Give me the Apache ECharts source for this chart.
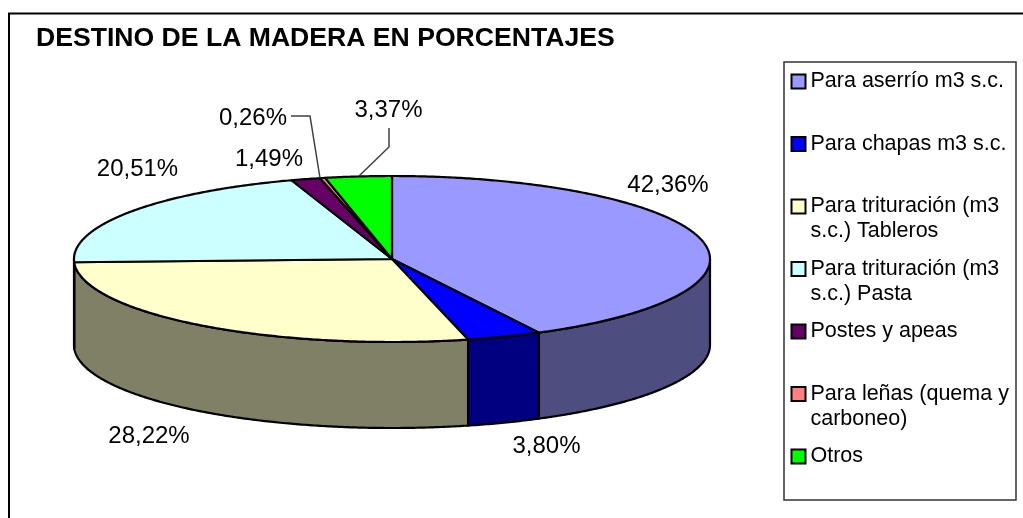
<!DOCTYPE html>
<html>
<head>
<meta charset="utf-8">
<style>html,body{margin:0;padding:0;background:#fff}#c{width:1023px;height:518px}</style>
<script src="https://cdn.jsdelivr.net/npm/echarts@6/dist/echarts.min.js"></script>
</head>
<body>
<div id="c"></div>
<script>
const titleText = 'DESTINO DE LA MADERA EN PORCENTAJES';
const categories = ['Para aserrío m3 s.c.', 'Para chapas m3 s.c.', 'Para trituración (m3\ns.c.) Tableros', 'Para trituración (m3\ns.c.) Pasta', 'Postes y apeas', 'Para leñas (quema y\ncarboneo)', 'Otros'];
const shares = [42.36, 3.80, 28.22, 20.51, 1.49, 0.26, 3.37];
const topColors = ['#9999FF', '#0000FF', '#FFFFCC', '#CCFFFF', '#660066', '#FF8080', '#00FF00'];
const wallColors = ['#4D4D80', '#000080', '#808066', '#668080', '#330033', '#804040', '#008000'];
// label centre positions on the page, and leader lines
const labelAt = [[668, 185], [546.5, 446], [149, 436], [137.5, 169], [269, 159], [253, 118], [388.5, 110]];
const leaders = {5: [[291, 116], [310, 116], [320, 178]], 6: [[389, 128], [389, 147], [359, 176]]};

const cx = 392, cy = 259, rx = 318, ry = 83, depth = 86;
const total = shares.reduce((a, b) => a + b, 0);
const toAngle = v => echarts.number.linearMap(v, [0, total], [0, 360]);
const pt = (deg, dy) => {
  const r = deg * Math.PI / 180;
  return [cx + rx * Math.sin(r), cy - ry * Math.cos(r) + dy];
};
const arc = (a, b, dy) => {
  const out = [];
  const n = Math.max(2, Math.ceil((b - a) * 2));
  for (let k = 0; k <= n; k++) out.push(pt(a + (b - a) * k / n, dy));
  return out;
};

function makeItem(i) {
  return function () {
    const before = shares.slice(0, i).reduce((a, b) => a + b, 0);
    const a0 = toAngle(before), a1 = toAngle(before + shares[i]);
    const edge = {stroke: '#000', lineWidth: 2.2, lineJoin: 'round'};
    const children = [];
    const w0 = Math.max(a0, 90), w1 = Math.min(a1, 270);
    if (w1 > w0) {
      const upper = arc(w0, w1, 0), lower = arc(w0, w1, depth).reverse();
      children.push({type: 'polygon', shape: {points: upper.concat(lower)}, style: {fill: wallColors[i], ...edge}});
    }
    children.push({type: 'polygon', shape: {points: [[cx, cy]].concat(arc(a0, a1, 0))}, style: {fill: topColors[i], ...edge}});
    if (leaders[i]) {
      children.push({type: 'polyline', shape: {points: leaders[i]}, style: {fill: 'none', stroke: '#404040', lineWidth: 1.5}});
    }
    children.push({
      type: 'text', x: labelAt[i][0], y: labelAt[i][1],
      style: {text: shares[i].toFixed(2).replace('.', ',') + '%', fill: '#000', font: '24px "Liberation Sans", Arial, sans-serif', align: 'center', verticalAlign: 'middle'}
    });
    return {type: 'group', children};
  };
}

const chart = echarts.init(document.getElementById('c'), null, {renderer: 'canvas'});
chart.setOption({
  animation: false,
  backgroundColor: '#fff',
  title: {
    text: titleText, left: 36, top: 25,
    padding: 0,
    textStyle: {fontFamily: '"Liberation Sans", Arial, sans-serif', fontWeight: 'bold', fontSize: 26.6, color: '#000'}
  },
  legend: {
    orient: 'vertical', left: 790.5, top: 44, padding: 0,
    itemWidth: 14, itemHeight: 14, itemGap: -12.5,
    icon: 'rect', selectedMode: false,
    itemStyle: {borderColor: '#000', borderWidth: 2},
    formatter: n => n.indexOf('\n') >= 0 ? '\n' + n : '\n' + n + '\n ',
    textStyle: {fontFamily: '"Liberation Sans", Arial, sans-serif', fontSize: 21.5, lineHeight: 25, color: '#000'},
    data: categories
  },
  graphic: [
    {type: 'polyline', silent: true, z: -1, shape: {points: [[9, 518], [9, 13.5], [1023, 13.5]]}, style: {fill: 'none', stroke: '#000', lineWidth: 2}},
    {type: 'rect', silent: true, z: -1, shape: {x: 784, y: 62, width: 232, height: 438}, style: {fill: '#fff', stroke: '#333', lineWidth: 1.5}}
  ],
  series: categories.map((name, i) => ({
    type: 'custom', name, coordinateSystem: 'none',
    itemStyle: {color: topColors[i]},
    data: [shares[i]],
    renderItem: makeItem(i)
  }))
});
</script>
</body>
</html>
